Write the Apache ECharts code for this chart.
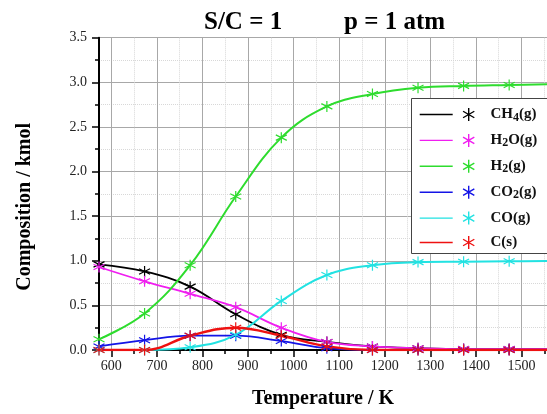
<!DOCTYPE html>
<html>
<head>
<meta charset="utf-8">
<script src="https://cdn.jsdelivr.net/npm/echarts/dist/echarts.min.js"></script>
<style>
  html, body { margin: 0; padding: 0; background: #fff; }
  #chart { width: 547px; height: 414px; }
</style>
</head>
<body>
<div id="chart"></div>
<script>
// temperatures in K (300 .. 1300 degC)
var temps = [573, 673, 773, 873, 973, 1073, 1173, 1273, 1373, 1473, 1573];

// composition / kmol
var ch4 = [0.96, 0.88, 0.71, 0.40, 0.17, 0.09, 0.04, 0.02, 0.01, 0.01, 0.01];
var h2o = [0.93, 0.77, 0.63, 0.48, 0.25, 0.09, 0.04, 0.02, 0.01, 0.01, 0.01];
var h2  = [0.12, 0.41, 0.95, 1.72, 2.38, 2.73, 2.87, 2.94, 2.96, 2.97, 2.98];
var co2 = [0.04, 0.11, 0.16, 0.16, 0.10, 0.02, 0.00, 0.00, 0.00, 0.00, 0.00];
var co  = [0.00, 0.00, 0.03, 0.17, 0.55, 0.84, 0.95, 0.985, 0.99, 0.995, 0.997];
var cs  = [0.00, 0.00, 0.16, 0.25, 0.16, 0.04, 0.00, 0.00, 0.00, 0.00, 0.00];

var speciesNames = ['CH4(g)', 'H2O(g)', 'H2(g)', 'CO2(g)', 'CO(g)', 'C(s)'];
var speciesLabels = ['{f|CH}{s|4}{a|(g)}', '{f|H}{s|2}{a|O(g)}', '{f|H}{s|2}{a|(g)}',
                     '{f|CO}{s|2}{a|(g)}', '{f|CO(g)}', '{f|C(s)}'];
var speciesData = [ch4, h2o, h2, co2, co, cs];
var speciesColors = ['#000000', '#f01ef0', '#2edc2e', '#1414e6', '#22e2e2', '#ee1111'];
var speciesWidth = [1.8, 1.8, 2, 1.8, 2, 2.4];

var xMajor = [600, 700, 800, 900, 1000, 1100, 1200, 1300, 1400, 1500];
var xMinor = [650, 750, 850, 950, 1050, 1150, 1250, 1350, 1450, 1550];

var SERIF = '"Liberation Serif", "DejaVu Serif", serif';
// asterisk marker, strokes only
var STAR = 'path://M0,-10L0,10M-8.66,-5L8.66,5M-8.66,5L8.66,-5';
// legend icon: short line + asterisk
var LEG_ICON = 'path://M0,0L33,0M49,-6.5L49,6.5M43.37,-3.25L54.63,3.25M43.37,3.25L54.63,-3.25';

var chart = echarts.init(document.getElementById('chart'));

var series = speciesNames.map(function (name, i) {
    return {
        name: name,
        type: 'line',
        smooth: 0.4,
        data: temps.map(function (t, k) { return [t, speciesData[i][k]]; }),
        symbol: STAR,
        symbolSize: 11,
        showAllSymbol: true,
        lineStyle: { color: speciesColors[i], width: speciesWidth[i] },
        itemStyle: { color: speciesColors[i], borderColor: speciesColors[i], borderWidth: 1.2 },
        clip: true
    };
});

var option = {
    animation: false,
    title: [
        {
            text: 'S/C = 1', left: 204, top: 10, padding: 0,
            textStyle: { fontFamily: SERIF, fontWeight: 'bold', fontSize: 25, color: '#000' }
        },
        {
            text: 'p = 1 atm', left: 344, top: 10, padding: 0,
            textStyle: { fontFamily: SERIF, fontWeight: 'bold', fontSize: 25, color: '#000' }
        }
    ],
    // legend frame runs off the right edge, like the original
    graphic: [
        {
            type: 'rect',
            z: 3,
            shape: { x: 411.5, y: 98.5, width: 160, height: 155 },
            style: { fill: '#fff', stroke: '#444', lineWidth: 1 }
        }
    ],
    legend: {
        orient: 'vertical',
        left: 411,
        top: 99,
        padding: [8, 8, 2, 8],
        itemGap: 9.4,
        itemWidth: 55,
        itemHeight: 13,
        icon: LEG_ICON,
        borderWidth: 0,
        data: speciesNames.map(function (name, i) {
            return {
                name: name,
                itemStyle: { color: speciesColors[i], borderColor: speciesColors[i], borderWidth: 1.4 }
            };
        }),
        formatter: function (name) {
            return speciesLabels[speciesNames.indexOf(name)];
        },
        textStyle: {
            fontFamily: SERIF, fontWeight: 'bold', fontSize: 15, color: '#111',
            rich: {
                f: { fontFamily: SERIF, fontWeight: 'bold', fontSize: 15, color: '#111', lineHeight: 18, padding: [0, 0, 0, 11] },
                a: { fontFamily: SERIF, fontWeight: 'bold', fontSize: 15, color: '#111', lineHeight: 18 },
                s: { fontFamily: SERIF, fontWeight: 'bold', fontSize: 12, color: '#111', lineHeight: 8, verticalAlign: 'bottom' }
            }
        }
    },
    grid: { left: 99, right: 0, top: 37.7, bottom: 58.3, containLabel: false },
    xAxis: [
        {
            type: 'value',
            min: 573,
            max: 1556,
            name: 'Temperature / K',
            nameLocation: 'middle',
            nameGap: 39,
            nameTextStyle: { fontFamily: SERIF, fontWeight: 'bold', fontSize: 20, color: '#000' },
            axisLine: { show: true, onZero: false, lineStyle: { color: '#000', width: 2 } },
            axisTick: { show: true, inside: false, length: 7, customValues: xMajor, lineStyle: { color: '#000', width: 1.5 } },
            axisLabel: {
                customValues: xMajor, margin: 9, fontFamily: SERIF, fontSize: 14, color: '#222',
                formatter: function (v) { return String(v); }
            },
            splitLine: { show: true, lineStyle: { color: '#a8a8a8', width: 1 } }
        },
        {
            type: 'value',
            position: 'bottom',
            min: 573,
            max: 1556,
            axisLine: { show: false },
            axisTick: { show: true, inside: false, length: 4, customValues: xMinor, lineStyle: { color: '#000', width: 1.5 } },
            axisLabel: { show: false },
            splitLine: { show: true, lineStyle: { color: '#d8d8d8', width: 1, type: 'dotted' } }
        }
    ],
    yAxis: {
        type: 'value',
        min: 0,
        max: 3.5,
        interval: 0.5,
        name: 'Composition / kmol',
        nameLocation: 'middle',
        nameRotate: 90,
        nameGap: 64,
        nameTextStyle: { fontFamily: SERIF, fontWeight: 'bold', fontSize: 20, color: '#000', padding: [0, 26, 0, 0] },
        axisLine: { show: true, lineStyle: { color: '#000', width: 2 } },
        axisTick: { show: true, inside: false, length: 7, lineStyle: { color: '#000', width: 1.5 } },
        minorTick: { show: true, splitNumber: 2, length: 4, lineStyle: { color: '#000', width: 1.5 } },
        axisLabel: {
            margin: 12, fontFamily: SERIF, fontSize: 14, color: '#222',
            formatter: function (v) { return v.toFixed(1); }
        },
        splitLine: { show: true, lineStyle: { color: '#a8a8a8', width: 1 } },
        minorSplitLine: { show: true, lineStyle: { color: '#d8d8d8', width: 1, type: 'dotted' } }
    },
    series: series
};

chart.setOption(option);
</script>
</body>
</html>
